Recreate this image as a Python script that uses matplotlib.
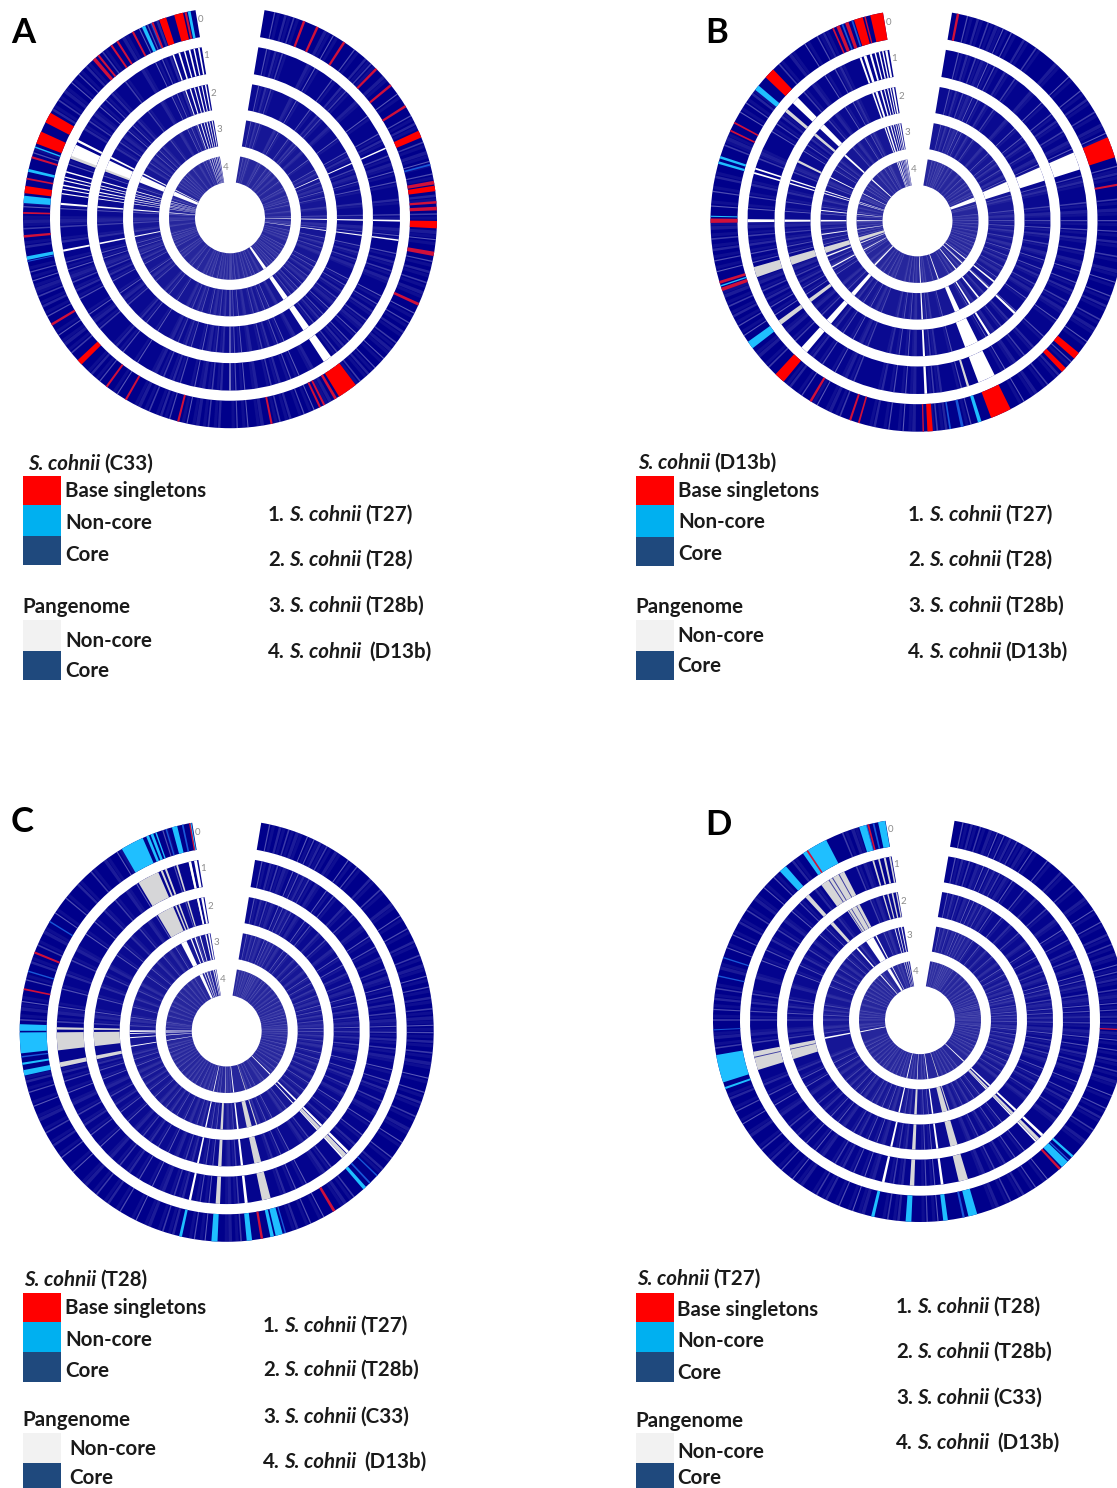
import numpy as np
import matplotlib
matplotlib.use("Agg")
import matplotlib.pyplot as plt
from matplotlib.patches import Rectangle

W, H = 1117, 1488

# ring limits (inner, outer), ring 0 is the outermost one
RING_IN = [180, 143, 107, 71, 35]
RING_OUT = [207, 170, 133, 97, 61]
RING_BASE = ["#00008b", "#04048e", "#0a0a91", "#161696", "#26269c"]
RING_NAMES = ["0", "1", "2", "3", "4"]
NAME_THETA = [351.4, 351.6, 352.3, 353.0, 355.6]
NAME_R = [197, 161, 123, 87, 50]
START, END = 9.6, 350.4

# all positions in degrees clockwise from the top: (position, width)
A_RED = [(21, .7), (25, .7), (33.5, .7), (45, .7), (51, .7), (58, .7), (66.6, 2), (80.4, 1), (82, 1.5),
         (85.8, .7), (87.5, 1), (91.9, 2), (99.9, 1.2), (114.3, .8), (145.4, 5.6), (149.3, .8), (152.9, .6),
         (154.2, .6), (168.4, .6), (194.5, .6), (210.2, .6), (216.6, .6), (226.6, 1.6), (239.5, .7),
         (264.9, .7), (271.3, .5), (277.7, 2), (280.7, .5), (286.7, .6), (292.4, 3.5), (298.4, 3),
         (319, 1), (320.5, .6), (325, .6), (327, .6), (332, .6), (338, .6), (341, 2), (345.6, 2.5), (347.6, .6)]
A_CYAN = [(258.9, 1), (275, 2), (283, .8), (289.6, .4), (335.3, 1), (348.6, .8)]
A_BLUE = [(75.4, .5), (258, .3), (337.7, .5)]
A_WHITE = [(293, 4, 1, 4), (296.4, .8, 1, 4), (278, .4, 1, 4), (279.5, .4, 1, 4), (280.8, .5, 1, 4), (282.4, .4, 1, 4),
           (283.6, .4, 1, 4), (285.4, .5, 1, 4), (274.6, .7, 1, 4), (259, .7, 1, 3), (91, .6, 1, 4),
           (97.5, .5, 1, 4), (66.3, .5, 1, 3), (145, 3, 1, 4), (180, .3, 1, 4), (340.5, .5, 1, 4),
           (342.6, .6, 1, 4), (344.5, .5, 1, 4), (346.2, .6, 1, 4), (347.8, .5, 1, 4), (349.4, .6, 1, 4)]
A_GRAY = [(291, 2, 1, 2), (146.6, .5, 0, 0), (144.3, .5, 0, 0)]
A_LIGHT = [12.5, 15.6, 18, 27.5, 30, 37, 41, 43, 48, 54, 61, 63.5, 69, 72, 74.5, 78, 84, 89, 94, 96, 102, 105, 108,
           111, 117, 120, 123, 126.5, 129, 132, 135.5, 138, 141, 151, 156, 159, 163, 166, 171, 175, 178, 183, 186,
           189, 192, 197, 199.5, 203, 206, 213, 219, 222, 230, 233, 236, 242, 245, 248, 250, 252.5, 255, 262, 267,
           269, 273, 288, 301, 304, 307, 310, 313, 316, 322, 329, 334, 336.5, 339.4]

B_RED = [(11.3, .7), (69.6, 5.8), (80, .6), (129.8, 2), (135, 1.5), (156.2, 5.9), (176.5, 1.5), (178.4, .4),
         (196.5, .5), (199, .6), (211.1, .7), (221.8, 3), (251, 1), (253, .8), (270, 1.2), (295.3, .5), (297.7, .5),
         (314.3, 3), (335.9, .5), (337.4, 1), (340, 1), (343.4, 2.5), (345.3, .4), (348.6, 3.6)]
B_CYAN = [(162.5, 1), (233.9, 2.2), (252, .4), (271.2, .3), (286, .7), (287.5, .7), (309.1, 1.5)]
B_BLUE = [(167.5, .8), (170.9, .5), (341.6, .5), (338.7, .5)]
B_WHITE = [(69.8, 6, 1, 3), (70, 4, 4, 4), (177.2, .9, 1, 4), (156, 6, 1, 2), (155.8, 3, 3, 3), (160, 1, 4, 4),
           (147.3, 1, 2, 3), (141, 1, 3, 4), (221.8, 2.5, 1, 3), (224.5, 1.5, 4, 4), (270, 1, 1, 4), (286, .6, 1, 4),
           (287.5, .6, 1, 4), (314, 2.5, 1, 2), (311.5, 1.2, 3, 4), (340.4, .7, 1, 4), (342, 1, 1, 4), (344, .7, 1, 4),
           (345.6, .5, 1, 4), (347, .5, 1, 4), (348.2, .5, 1, 4), (349.4, .8, 1, 4), (242, .8, 3, 4),
           (249, .8, 3, 4), (262, .6, 3, 4), (133, 1, 2, 4), (128, 1, 3, 4), (276, .6, 3, 4), (296, .6, 3, 4)]
B_GRAY = [(252.7, 3.5, 1, 4), (234, 1.6, 1, 2), (309.5, 1.2, 1, 2), (162.7, .8, 1, 1), (69, .5, 0, 0), (296, 1, 2, 2)]
B_LIGHT = [14, 17, 20, 22.5, 24.5, 27, 31, 35, 42, 47, 52, 55, 59, 63, 65.5, 75, 77, 84, 87, 90, 93, 96, 100, 104,
           107, 111, 114, 118, 121, 125, 132, 137, 141, 145, 149, 165, 172, 174.5, 181, 184, 188, 192, 202, 205, 209,
           214, 218, 226, 230, 237, 240, 243, 246, 249, 256, 259, 262, 265, 268, 274, 278, 282, 291, 293, 301, 304,
           307, 318, 322, 327, 331, 333]

C_RED = [(148.7, .8), (170.2, .7), (281.4, .5), (291.8, .6), (349.7, .4)]
C_CYAN = [(138.2, 1), (165.3, 2), (167.3, 1), (173.7, 1.5), (183.4, 1.7), (192.9, .8), (258.5, 1.5), (261, .6),
          (266.7, 5.7), (270.9, 1.8), (332.8, 6.5), (337.5, .8), (338.8, .8), (340, .4), (345.4, 1.5), (350, .4)]
C_BLUE = [(136.2, .5), (133.4, .4), (262.9, .4), (286.4, .4), (301.2, .4), (347.7, .5), (163.5, .4), (343, .4)]
C_WHITE = [(333.7, 3.5, 3, 3), (335, 3, 4, 4), (269.8, 1, 3, 4), (266, .6, 3, 4), (261, .6, 3, 4), (192.5, .8, 1, 4),
           (173.4, 1, 1, 4), (134.5, 1, 1, 4), (137, .6, 1, 3), (268.4, .5, 3, 4), (338.5, .8, 3, 4),
           (341, .8, 3, 4), (344, .6, 3, 4), (347.5, .8, 1, 4), (349.4, 1, 1, 4), (181.5, .5, 4, 4)]
C_GRAY = [(332.5, 7.5, 1, 2), (266.5, 6, 1, 2), (270.8, .8, 1, 2), (258.7, 1.6, 1, 2), (183, 1.5, 1, 3), (166.5, 3, 1, 3),
          (136, 1.4, 1, 2), (337.5, .7, 1, 2), (339, .7, 1, 2), (343, .6, 1, 2), (347.4, .8, 1, 2), (162, .7, 3, 4)]
C_LIGHT = [12, 15, 17.5, 20, 23, 25, 27, 29, 32, 36, 39, 44, 48, 53, 57, 61, 65, 69, 72, 75, 78, 81, 84, 86.5, 88.5,
           90.5, 93, 96, 99, 103, 107, 110, 114, 118, 122, 127, 131, 142, 145, 152, 156, 160, 176, 179, 186, 189, 195,
           198, 202, 206, 211, 215, 219, 223, 228, 233, 237, 241, 245, 249, 253, 256, 273, 276, 278, 284, 289, 294,
           298, 304, 309, 314, 319, 324, 328, 342]

D_RED = [(137.5, .7), (92.8, .4), (327, .5), (345.5, .5)]
D_CYAN = [(132.5, .7), (135.6, 2.2), (165.2, 2.5), (172.9, 1.3), (183.2, 1.6), (193.2, .9), (250.3, .6), (256, 8),
          (318.5, 2.2), (329.3, 7.5), (343.9, 2), (349.3, 2)]
D_BLUE = [(134, .4), (167.8, .6), (257, .4), (267.2, .3), (282.6, .4), (288, .4), (327.8, .5), (329.5, .4), (331, .4),
          (345, .4), (347, .5)]
D_WHITE = [(328.7, 5, 3, 3), (329, 3, 4, 4), (259, 1, 3, 3), (258.5, 1, 4, 4), (319.5, 1, 3, 4), (192.5, .9, 1, 4),
           (172.5, .9, 1, 4), (134, 1, 1, 4), (137, .6, 1, 3), (349, .6, 3, 4), (347, .5, 3, 4), (345, .5, 3, 4),
           (333, .8, 3, 4), (182.7, .6, 4, 4)]
D_GRAY = [(329, 9, 1, 1), (330, 6, 2, 2), (255.7, 6.5, 1, 2), (318.4, 1.5, 1, 2), (182.7, 1.5, 1, 3), (165.2, 3.2, 1, 3),
          (136, 1.2, 1, 3), (346, .6, 1, 2), (348, .7, 1, 2), (344, .6, 1, 2), (349.8, .6, 1, 2), (162.5, .7, 3, 4)]
D_BASE_LINES = [327.6, 329, 331.5, 257]  # dark lines inside the grey block
D_LIGHT = [12, 14.5, 17, 20, 22, 24, 26, 28, 30.5, 33, 38, 43, 48, 53, 57, 61, 65, 68, 71, 74, 76, 78, 81, 83, 85, 87,
           89, 91, 94, 96, 99, 102, 105, 108, 112, 116, 119, 123, 127, 142, 146, 150, 154, 158, 175, 178, 186, 189,
           196, 199, 203, 207, 210, 215, 218, 222, 226, 230, 235, 239, 243, 247, 262, 265, 270, 273, 276, 279, 285,
           291, 295, 299, 303, 307, 311, 315, 322, 338, 341]

# legends
TITLES = [("S. cohnii", " (C33)"), ("S. cohnii", " (D13b)"), ("S. cohnii", " (T28)"), ("S. cohnii", " (T27)")]
LISTS = [[("1. ", " (T27)"), ("2. ", " (T28"), ("3. ", " (T28b)"), ("4. ", "  (D13b)")],
         [("1. ", " (T27)"), ("2. ", " (T28)"), ("3. ", " (T28b)"), ("4. ", " (D13b)")],
         [("1. ", " (T27)"), ("2. ", " (T28b)"), ("3. ", " (C33)"), ("4. ", "  (D13b)")],
         [("1. ", " (T28)"), ("2. ", " (T28b)"), ("3. ", " (C33)"), ("4. ", "  (D13b)")]]
BASE_LABELS = ["Base singletons", "Non-core", "Core"]
PAN_LABELS = ["Non-core", "Core"]
BASE_COLORS = ["#ff0000", "#00b0f0", "#1f497d"]
PAN_COLORS = ["#f2f2f2", "#1f497d"]

# streak looks, cycled so neighbouring streaks differ
STREAK_W = [.35, .7, .45, 1.0, .3]
STREAK_A = [.42, .2, .32, .15, .5]

plt.rcParams["font.family"] = ["Lato", "DejaVu Sans"]
fig = plt.figure(figsize=(W / 100, H / 100), dpi=100)


def draw_rings(cx, cy, rx, ry, red, cyan, blue, white, gray, light, dark=()):
    rmax = 215
    hw, hh = rx * rmax / 207, ry * rmax / 207
    ax = fig.add_axes([(cx - hw) / W, 1 - (cy + hh) / H, 2 * hw / W, 2 * hh / H], projection="polar")
    ax.set_theta_zero_location("N")
    ax.set_theta_direction(-1)
    ax.set_aspect("auto")
    ax.set_ylim(0, rmax)
    ax.axis("off")

    def seg(pos, wid, ring, color, alpha=1.0, z=2):
        a = max(pos - wid / 2, START)
        b = min(pos + wid / 2, END)
        ax.bar(np.radians(a), RING_OUT[ring] - RING_IN[ring], width=np.radians(b - a), bottom=RING_IN[ring],
               align="edge", color=color, alpha=alpha, linewidth=0, zorder=z)

    for i in range(5):
        ax.bar(np.radians(START), RING_OUT[i] - RING_IN[i], width=np.radians(END - START), bottom=RING_IN[i],
               align="edge", color=RING_BASE[i], linewidth=0, zorder=1)
        # same streak is wider in degrees nearer the middle, otherwise it vanishes
        for n, p in enumerate(light):
            seg(p, STREAK_W[n % 5] * (1 + .18 * i), i, "#b8b8e6", alpha=STREAK_A[n % 5])
            seg(p + 1.1, .9, i, "#b8b8e6", alpha=.08)
        ax.text(np.radians(NAME_THETA[i]), NAME_R[i], RING_NAMES[i], color="#8c8c8c", fontsize=7,
                ha="center", va="center")

    for p, w, r0, r1 in gray:
        for i in range(r0, r1 + 1):
            seg(p, w, i, "#d6d6d8", z=3)
    for p in dark:
        for i in (1, 2):
            seg(p, .35, i, "#3c3ca0", z=3.5)
    for p, w, r0, r1 in white:
        for i in range(r0, r1 + 1):
            seg(p, w, i, "#ffffff", z=4)
    for p, w in blue:
        seg(p, w, 0, "#1858d8", z=5)
    for p, w in cyan:
        seg(p, w, 0, "#1fbfff", z=6)
    for p, w in red:
        seg(p, w, 0, "#ff0000" if w > 1.2 else "#d0103a", z=7)
    return ax


draw_rings(230, 217.7, 207, 210.5, A_RED, A_CYAN, A_BLUE, A_WHITE, A_GRAY, A_LIGHT)
draw_rings(917.5, 220.7, 207, 211, B_RED, B_CYAN, B_BLUE, B_WHITE, B_GRAY, B_LIGHT)
draw_rings(226.7, 1030.8, 207, 211, C_RED, C_CYAN, C_BLUE, C_WHITE, C_GRAY, C_LIGHT)
draw_rings(920, 1020, 207, 202, D_RED, D_CYAN, D_BLUE, D_WHITE, D_GRAY, D_LIGHT, D_BASE_LINES)

# text layer in pixel coordinates
tx = fig.add_axes([0, 0, 1, 1], zorder=10)
tx.set_xlim(0, W)
tx.set_ylim(H, 0)
tx.axis("off")
rend = fig.canvas.get_renderer()
FS = 14.8
WEIGHT = "bold"


def label(x, y, s):
    return tx.text(x, y, s, fontsize=FS, weight=WEIGHT, va="center", ha="left", color="#1a1a1a")


def rich(x, y, parts):
    # parts are (text, style); baseline shared, next part starts where the last ended
    for s, style in parts:
        n_lead = len(s) - len(s.lstrip())
        n_trail = len(s) - len(s.rstrip())
        x += n_lead * 4.0
        t = tx.text(x, y, s.strip(), fontsize=FS, weight=WEIGHT, style=style, va="baseline", ha="left",
                    color="#1a1a1a")
        x = t.get_window_extent(rend).x1 + n_trail * 4.0


LETTERS = ["A", "B", "C", "D"]
LETTER_POS = [(11, 33), (705, 33), (11, 822), (705, 825)]
TITLE_POS = [(28, 470), (638, 469), (24, 1286), (637, 1285)]
SWATCH_X = [23, 636, 23, 636]
SWATCH_Y = [[476, 505, 536, 565], [476, 505, 537, 566], [1293, 1322, 1352, 1382], [1293, 1322, 1352, 1382]]
BASE_TX = [65, 678, 65, 677]
BASE_TY = [[491, 523, 555], [491, 522, 554], [1308, 1340, 1371], [1310, 1341, 1373]]
PAN_POS = [(22, 607), (635, 607), (22, 1420), (635, 1421)]
PAN_Y = [[620, 651, 680], [620, 651, 680], [1433, 1463, 1493], [1433, 1463, 1493]]
PAN_TX = [65, 677, 69, 677]
PAN_TY = [[641, 671], [636, 666], [1449, 1478], [1452, 1478]]
LIST_X = [268, 908, 263, 896]
LIST_Y = [[521, 566, 612, 658], [521, 566, 612, 658], [1332, 1376, 1423, 1468], [1313, 1358, 1404, 1449]]

for k in range(4):
    tx.text(LETTER_POS[k][0], LETTER_POS[k][1], LETTERS[k], fontsize=25, weight="bold", va="center", ha="left",
            color="black")
    rich(TITLE_POS[k][0], TITLE_POS[k][1], [(TITLES[k][0], "italic"), (TITLES[k][1], "normal")])
    for j in range(3):
        tx.add_patch(Rectangle((SWATCH_X[k], SWATCH_Y[k][j]), 38, SWATCH_Y[k][j + 1] - SWATCH_Y[k][j],
                               color=BASE_COLORS[j], linewidth=0))
        label(BASE_TX[k], BASE_TY[k][j], BASE_LABELS[j])
    label(PAN_POS[k][0], PAN_POS[k][1], "Pangenome")
    for j in range(2):
        tx.add_patch(Rectangle((SWATCH_X[k], PAN_Y[k][j]), 38, PAN_Y[k][j + 1] - PAN_Y[k][j],
                               color=PAN_COLORS[j], linewidth=0))
        label(PAN_TX[k], PAN_TY[k][j], PAN_LABELS[j])
    for j in range(4):
        a, b = LISTS[k][j]
        parts = [(a, "normal"), ("S. cohnii", "italic"), (b, "normal")]
        if not b.endswith(")"):
            parts.append((")", "italic"))  # the closing bracket is slanted in panel A
        rich(LIST_X[k], LIST_Y[k][j], parts)

fig.savefig("out.png", dpi=100)
